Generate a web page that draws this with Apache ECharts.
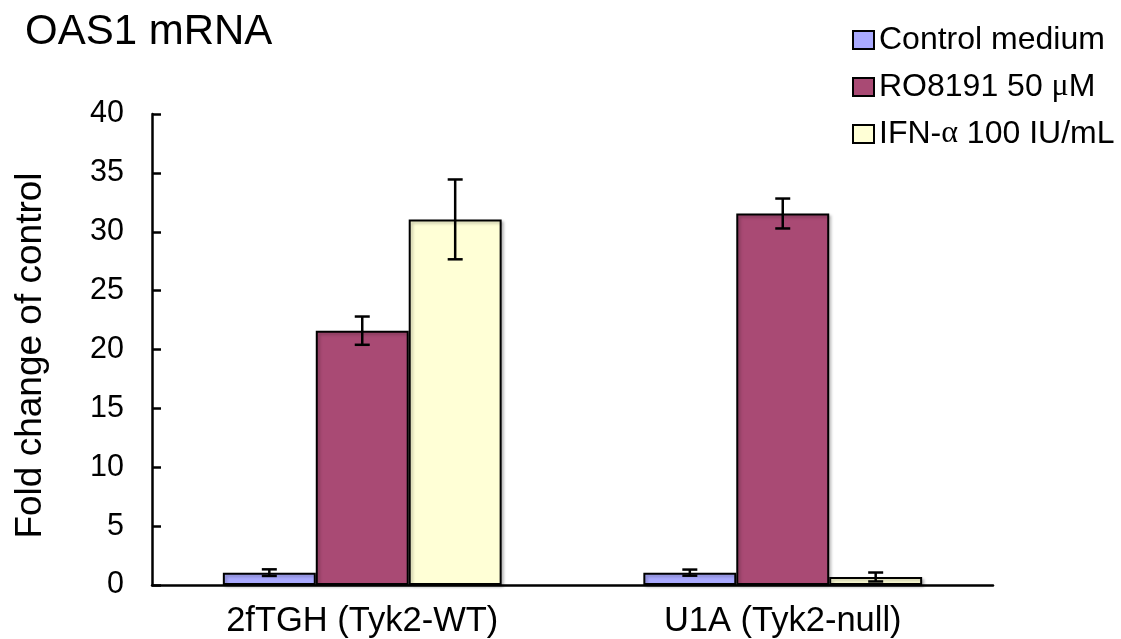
<!DOCTYPE html>
<html>
<head>
<meta charset="utf-8">
<script src="https://cdn.jsdelivr.net/npm/echarts@6/dist/echarts.min.js"></script>
<style>
html,body{margin:0;padding:0;background:#fff;}
#chart{width:1121px;height:639px;}
</style>
</head>
<body>
<div id="chart"></div>
<script>
const categories = ['2fTGH (Tyk2-WT)', 'U1A (Tyk2-null)'];
const seriesNames = ['Control medium', 'RO8191 50 μM', 'IFN-α 100 IU/mL'];
const controlValues = [1.05, 1.05];
const controlErrors = [0.28, 0.26];
const roValues = [21.6, 31.55];
const roErrors = [1.2, 1.27];
const ifnValues = [31.05, 0.68];
const ifnErrors = [3.39, 0.38];
const yTicks = [0, 5, 10, 15, 20, 25, 30, 35, 40];

const colors = ['#AAAAFF', '#A94A74', '#FFFFD6'];
const BAR_RATIO = 0.221;

const valuesList = [controlValues, roValues, ifnValues];
const errorsList = [controlErrors, roErrors, ifnErrors];

const chart = echarts.init(document.getElementById('chart'), null, {renderer: 'canvas'});

const barSeries = seriesNames.map((name, i) => ({
  name: name,
  type: 'bar',
  data: valuesList[i],
  barWidth: (BAR_RATIO * 100) + '%',
  barGap: '0%',
  itemStyle: {
    color: colors[i],
    borderColor: '#000',
    borderWidth: 2,
    shadowColor: 'rgba(0,0,0,0.25)',
    shadowBlur: 3,
    shadowOffsetX: 2,
    shadowOffsetY: 2
  },
  emphasis: {disabled: true},
  z: 2
}));

const errorSeries = seriesNames.map((name, i) => ({
  type: 'custom',
  name: name + ' error',
  data: valuesList[i].map((v, j) => [j, v - errorsList[i][j], v + errorsList[i][j]]),
  z: 5,
  renderItem: function (params, api) {
    const band = api.size([1, 0])[0];
    const offset = (i - 1) * band * BAR_RATIO;
    const lo = api.coord([api.value(0), api.value(1)]);
    const hi = api.coord([api.value(0), api.value(2)]);
    const x = lo[0] + offset;
    const cap = 7.5;
    const style = {stroke: '#000', lineWidth: 2.5};
    return {
      type: 'group',
      children: [
        {type: 'line', shape: {x1: x, y1: lo[1], x2: x, y2: hi[1]}, style: style},
        {type: 'line', shape: {x1: x - cap, y1: lo[1], x2: x + cap, y2: lo[1]}, style: style},
        {type: 'line', shape: {x1: x - cap, y1: hi[1], x2: x + cap, y2: hi[1]}, style: style}
      ]
    };
  },
  encode: {x: 0, y: [1, 2]},
  silent: true
}));

const legendRich = {
  n: {fontSize: 32, fontFamily: 'Liberation Sans, Arial, sans-serif', color: '#000'},
  g: {fontSize: 32, fontFamily: 'Liberation Serif, DejaVu Serif, serif', color: '#000'}
};

const option = {
  animation: false,
  backgroundColor: '#fff',
  title: {
    text: 'OAS1 mRNA',
    left: 20,
    top: 6,
    textStyle: {fontSize: 42, fontWeight: 'normal', color: '#000', fontFamily: 'Liberation Sans, Arial, sans-serif'}
  },
  legend: {
    orient: 'vertical',
    left: 847,
    top: 19,
    itemWidth: 21,
    itemHeight: 18,
    itemGap: 15,
    data: seriesNames,
    icon: 'rect',
    itemStyle: {borderColor: '#000', borderWidth: 2},
    textStyle: {fontSize: 32, color: '#000', fontFamily: 'Liberation Sans, Arial, sans-serif', padding: [0, 0, 0, 0], rich: legendRich},
    formatter: function (name) {
      return name.split(/([μα])/).filter(s => s.length).map(s => (s === 'μ' || s === 'α') ? '{g|' + s + '}' : '{n|' + s + '}').join('');
    }
  },
  grid: {left: 152, right: 128, top: 114, bottom: 53.5, containLabel: false},
  xAxis: {
    type: 'category',
    data: categories,
    axisLine: {lineStyle: {color: '#000', width: 2.5}},
    axisTick: {inside: true, length: 9, lineStyle: {color: '#000', width: 2.5}},
    axisLabel: {fontSize: 34.5, color: '#000', margin: 19, fontFamily: 'Liberation Sans, Arial, sans-serif'},
    splitLine: {show: false}
  },
  yAxis: {
    type: 'value',
    min: yTicks[0],
    max: yTicks[yTicks.length - 1],
    interval: yTicks[1] - yTicks[0],
    name: 'Fold change of control',
    nameLocation: 'middle',
    nameGap: 103,
    nameRotate: 90,
    nameTextStyle: {fontSize: 37, color: '#000', fontFamily: 'Liberation Sans, Arial, sans-serif', padding: [0, 12, 0, 0]},
    axisLine: {show: true, lineStyle: {color: '#000', width: 2.5}},
    axisTick: {show: true, inside: true, length: 9, lineStyle: {color: '#000', width: 2.5}},
    axisLabel: {fontSize: 30.5, color: '#000', margin: 28, fontFamily: 'Liberation Sans, Arial, sans-serif'},
    splitLine: {show: false}
  },
  series: barSeries.concat(errorSeries)
};

chart.setOption(option);
</script>
</body>
</html>
